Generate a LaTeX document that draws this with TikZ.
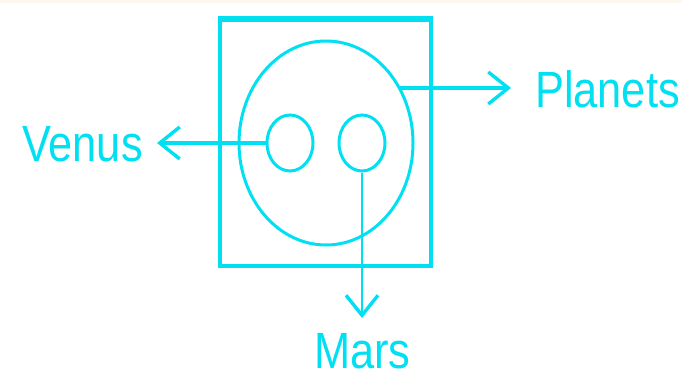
\documentclass[tikz,border=0pt]{standalone}
\usepackage{fontspec}
\setmainfont[FakeStretch=0.85]{Liberation Sans}
\usetikzlibrary{shapes.geometric,arrows.meta}
\definecolor{cy}{RGB}{0,224,242}
\definecolor{cream}{RGB}{253,248,238}
\tikzset{
  shp/.style={draw=cy, ellipse, inner sep=0pt},
  lbl/.style={text=cy, font=\fontsize{51}{51}\selectfont, inner sep=0pt},
  conn/.style={draw=cy, line width=3.4pt, -{Straight Barb[length=20pt,width=32pt,line width=3.4pt]}}
}
\begin{document}
\begin{tikzpicture}[x=1pt,y=-1pt]
\useasboundingbox (0,0) rectangle (682,385);
\fill[cream] (0,0) rectangle (682,3);
% frame
\node[draw=cy, line width=3.4pt, minimum width=211pt, minimum height=246pt, inner sep=0pt] (frame) at (325.5,143) {};
\draw[cy, line width=5.5pt] (frame.north west) -- (frame.north east);
% ellipses
\node[shp, line width=3pt, minimum width=174pt, minimum height=204pt] (planets) at (326,143) {};
\node[shp, line width=3pt, minimum width=46pt, minimum height=56pt] (venus) at (290,143) {};
\node[shp, line width=3pt, minimum width=46pt, minimum height=56pt] (mars) at (362,143) {};
% labels
\node[lbl, anchor=base west] (tplanets) at (535,108) {Planets};
\node[lbl, anchor=base west] (tvenus) at (22,161) {Venus};
\node[lbl, anchor=base west] (tmars) at (314,368) {Mars};
% connector ends
\coordinate (pstart) at (399,88);
\coordinate (ptip) at (511,88);
\coordinate (vtip) at (157,143);
\coordinate (mtip) at (362,318);
\draw[conn] (pstart) -- (ptip);
\draw[conn] (venus.west) -- (vtip);
\draw[conn, line width=2.6pt] (mars.south) -- (mtip);
\end{tikzpicture}
\end{document}
